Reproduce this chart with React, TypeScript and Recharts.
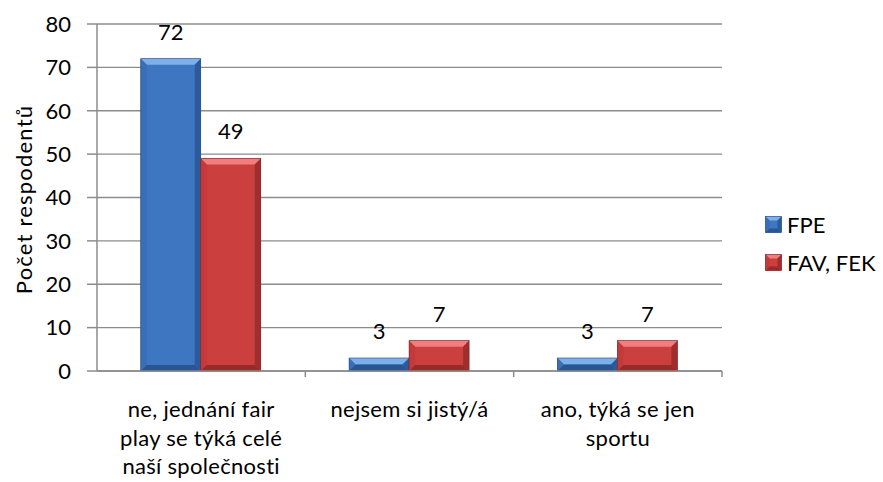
import React from "react";
import {
  BarChart,
  Bar,
  XAxis,
  YAxis,
  CartesianGrid,
  Legend,
  LabelList,
} from "recharts";

// answers to the question, one per category
const categories = [
  "ne, jednání fair\nplay se týká celé\nnaší společnosti",
  "nejsem si jistý/á",
  "ano, týká se jen\nsportu",
];
const fpe = [72, 3, 3];
const favFek = [49, 7, 7];
const yTicks = [0, 10, 20, 30, 40, 50, 60, 70, 80];

const data = categories.map((c, i) => ({ name: c, fpe: fpe[i], fav: favFek[i] }));

const FONT = "Lato, 'Open Sans', sans-serif";
const FS = 22;

const palettes: Record<string, { face: string; top: string; left: string; right: string; bottom: string; edge: string }> = {
  blue: { face: "#3E76C2", top: "#7CB0EC", left: "#3A6FB8", right: "#2C5B9C", bottom: "#2A558F", edge: "#23497E" },
  red: { face: "#CC3F3F", top: "#F27D7D", left: "#C23A3A", right: "#A02E2E", bottom: "#962B2B", edge: "#7E2222" },
};

function bevel(x: number, y: number, w: number, h: number, p: typeof palettes.blue, size: number) {
  const b = Math.min(size, h / 2, w / 2);
  return (
    <g>
      <rect x={x} y={y} width={w} height={h} fill={p.face} />
      <polygon points={`${x},${y} ${x + w},${y} ${x + w - b},${y + b} ${x + b},${y + b}`} fill={p.top} />
      <polygon points={`${x},${y} ${x + b},${y + b} ${x + b},${y + h - b} ${x},${y + h}`} fill={p.left} />
      <polygon points={`${x + w},${y} ${x + w - b},${y + b} ${x + w - b},${y + h - b} ${x + w},${y + h}`} fill={p.right} />
      <polygon points={`${x},${y + h} ${x + b},${y + h - b} ${x + w - b},${y + h - b} ${x + w},${y + h}`} fill={p.bottom} />
      <rect x={x} y={y} width={w} height={h} fill="none" stroke={p.edge} strokeWidth={0.6} />
    </g>
  );
}

const BevelBar = (color: string) => (props: any) => {
  const { x, y, width, height } = props;
  if (!height || height <= 0) return null;
  return bevel(x, y, width, height, palettes[color], 6);
};

const CategoryTick = (props: any) => {
  const { x, y, payload } = props;
  const band = 625 / categories.length;
  const lines = String(payload.value).split("\n");
  return (
    <g>
      <line x1={x + band / 2} y1={y - 8} x2={x + band / 2} y2={y - 2} stroke="#8c8c8c" strokeWidth={1.5} />
      <text x={x} y={y + 38} textAnchor="middle" fontFamily={FONT} fontSize={FS} letterSpacing={0.3} fill="#000">
        {lines.map((l, i) => (
          <tspan key={i} x={x} dy={i === 0 ? 0 : 28.5}>
            {l}
          </tspan>
        ))}
      </text>
    </g>
  );
};

const LegendContent = () => (
  <div style={{ fontFamily: FONT, fontSize: FS, color: "#000" }}>
    {[
      { label: "FPE", color: "blue" },
      { label: "FAV, FEK", color: "red" },
    ].map((item) => (
      <div key={item.label} style={{ display: "flex", alignItems: "center", height: 38 }}>
        <svg width={17} height={17} style={{ marginRight: 5 }}>
          {bevel(0.5, 0.5, 16, 16, palettes[item.color], 4)}
        </svg>
        {item.label}
      </div>
    ))}
  </div>
);

export default function App() {
  return (
    <div style={{ position: "absolute", left: 0, top: 0, width: 883, height: 482, background: "#fff" }}>
      <BarChart
        width={883}
        height={482}
        data={data}
        margin={{ top: 24, right: 43, bottom: 81, left: 0 }}
        barCategoryGap="21%"
        barGap={0}
      >
        <CartesianGrid vertical={false} stroke="#8c8c8c" strokeWidth={1.3} />
        <XAxis
          dataKey="name"
          height={30}
          tick={<CategoryTick />}
          tickLine={false}
          axisLine={{ stroke: "#8c8c8c", strokeWidth: 1.5 }}
          interval={0}
        />
        <YAxis
          width={97}
          domain={[0, 80]}
          ticks={yTicks}
          interval={0}
          tickSize={10}
          tickMargin={16}
          tick={{ fontFamily: FONT, fontSize: FS, fill: "#000" }}
          tickLine={{ stroke: "#8c8c8c", strokeWidth: 1.5 }}
          axisLine={{ stroke: "#8c8c8c", strokeWidth: 1.5 }}
          label={{
            content: ({ viewBox }: any) => {
              const cx = viewBox.x + 23;
              const cy = viewBox.y + viewBox.height / 2 + 2;
              return (
                <text
                  x={cx}
                  y={cy}
                  transform={`rotate(-90 ${cx} ${cy})`}
                  textAnchor="middle"
                  dominantBaseline="central"
                  fontFamily={FONT}
                  fontSize={FS}
                  letterSpacing={1.2}
                  fill="#000"
                >
                  Počet respodentů
                </text>
              );
            },
          }}
        />
        <Legend
          layout="vertical"
          align="right"
          verticalAlign="middle"
          content={<LegendContent />}
          wrapperStyle={{ left: 765, top: 205, width: 118 }}
        />
        <Bar dataKey="fpe" name="FPE" shape={BevelBar("blue")} isAnimationActive={false}>
          <LabelList dataKey="fpe" position="top" offset={19} style={{ fontFamily: FONT, fontSize: FS, fill: "#000" }} />
        </Bar>
        <Bar dataKey="fav" name="FAV, FEK" shape={BevelBar("red")} isAnimationActive={false}>
          <LabelList dataKey="fav" position="top" offset={19} style={{ fontFamily: FONT, fontSize: FS, fill: "#000" }} />
        </Bar>
      </BarChart>
    </div>
  );
}
